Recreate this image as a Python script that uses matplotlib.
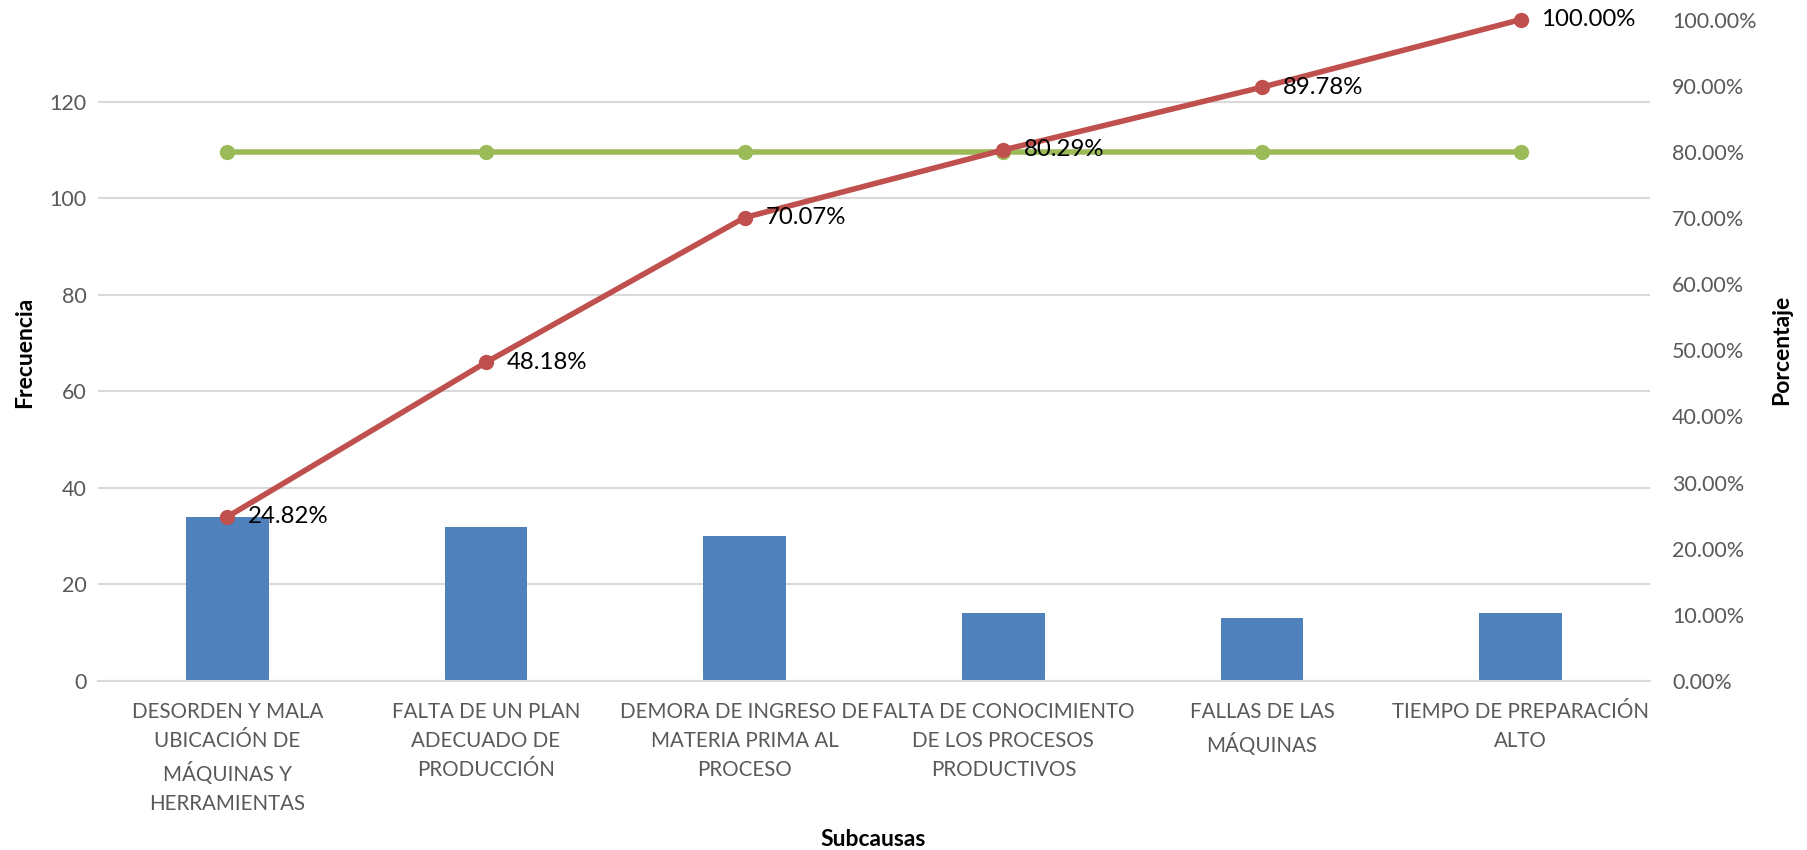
import matplotlib
matplotlib.use("Agg")
import matplotlib.pyplot as plt
from matplotlib.ticker import FuncFormatter
import numpy as np

categories = [
    "DESORDEN Y MALA\nUBICACIÓN DE\nMÁQUINAS Y\nHERRAMIENTAS",
    "FALTA DE UN PLAN\nADECUADO DE\nPRODUCCIÓN",
    "DEMORA DE INGRESO DE\nMATERIA PRIMA AL\nPROCESO",
    "FALTA DE CONOCIMIENTO\nDE LOS PROCESOS\nPRODUCTIVOS",
    "FALLAS DE LAS\nMÁQUINAS",
    "TIEMPO DE PREPARACIÓN\nALTO",
]
frecuencia = [34, 32, 30, 14, 13, 14]
acumulado = [0.2482, 0.4818, 0.7007, 0.8029, 0.8978, 1.0000]
limite = [0.80, 0.80, 0.80, 0.80, 0.80, 0.80]
left_ticks = [0, 20, 40, 60, 80, 100, 120]
right_ticks = [0.0, 0.1, 0.2, 0.3, 0.4, 0.5, 0.6, 0.7, 0.8, 0.9, 1.0]

plt.rcParams['font.family'] = ['Lato', 'DejaVu Sans']

W, H = 1807, 850
fig = plt.figure(figsize=(W / 100, H / 100), dpi=100)
ax = fig.add_axes([98 / W, 1 - 681 / H, (1650 - 98) / W, (681 - 19.6) / H])
x = np.arange(len(categories))

ax.bar(x, frecuencia, width=0.32, color='#4F81BD', zorder=2)
ax.set_xlim(-0.5, len(categories) - 0.5)
ax.set_ylim(0, 137)
ax.set_yticks(left_ticks)
ax.grid(axis='y', color='#D9D9D9', linewidth=1.5, zorder=0)
ax.set_axisbelow(True)
for s in ['top', 'right', 'left']:
    ax.spines[s].set_visible(False)
ax.spines['bottom'].set_color('#D9D9D9')
ax.spines['bottom'].set_linewidth(1.5)
ax.set_xticks(x)
ax.set_xticklabels(categories, fontsize=14.8, color='#595959', linespacing=1.58)
ax.tick_params(axis='x', length=0, pad=15)
ax.tick_params(axis='y', length=0, pad=8, labelsize=15.5, labelcolor='#595959')

ax2 = ax.twinx()
ax2.set_ylim(0, 1.0)
ax2.set_yticks(right_ticks)
ax2.yaxis.set_major_formatter(FuncFormatter(lambda v, p: f"{v*100:.2f}%"))
ax2.tick_params(axis='y', length=0, pad=16, labelsize=15.5, labelcolor='#595959')
for s in ['top', 'right', 'left', 'bottom']:
    ax2.spines[s].set_visible(False)
ax2.plot(x, limite, color='#9BBB59', linewidth=4, marker='o', markersize=10, zorder=3, clip_on=False)
ax2.plot(x, acumulado, color='#C0504D', linewidth=4, marker='o', markersize=10, zorder=4, clip_on=False)
for xi, v in zip(x, acumulado):
    ax2.annotate(f"{v*100:.2f}%", (xi, v), xytext=(15, 0), textcoords='offset points',
                 ha='left', va='center', fontsize=17.3, color='black', zorder=5)

fig.text(25 / W, 1 - 352 / H, 'Frecuencia', rotation=90, ha='center', va='center',
         fontsize=16.5, fontweight='bold', color='black')
fig.text(1782 / W, 1 - 350 / H, 'Porcentaje', rotation=90, ha='center', va='center',
         fontsize=16.5, fontweight='bold', color='black')
fig.text(873 / W, 1 - 840 / H, 'Subcausas', ha='center', va='center',
         fontsize=16.5, fontweight='bold', color='black')

fig.savefig('out.png', dpi=100)
